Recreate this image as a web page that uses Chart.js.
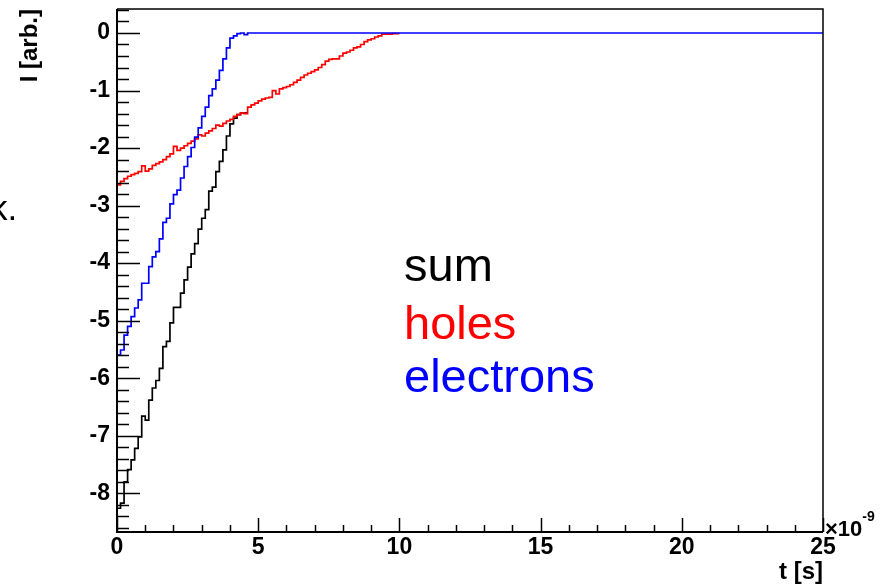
<!DOCTYPE html>
<html><head><meta charset="utf-8">
<script src="https://cdn.jsdelivr.net/npm/chart.js@4/dist/chart.umd.min.js"></script>
<style>html,body{margin:0;padding:0;background:#fff;overflow:hidden}#wrap{position:relative;width:884px;height:586px}canvas{display:block}</style>
</head><body><div id="wrap"><canvas id="c" width="884" height="586"></canvas></div>
<script>
// ---- data (time in ns, bin width 0.125 ns; current in arb. units) ----
const binWidthNs = 0.125;
const holes = [-2.38,-2.64,-2.58,-2.53,-2.49,-2.46,-2.44,-2.41,-2.31,-2.40,
 -2.36,-2.30,-2.27,-2.24,-2.20,-2.15,-2.10,-1.97,-2.04,-2.00,
 -1.96,-1.92,-1.88,-1.84,-1.77,-1.79,-1.74,-1.70,-1.66,-1.60,
 -1.62,-1.57,-1.53,-1.50,-1.45,-1.42,-1.39,-1.40,-1.29,-1.25,
 -1.22,-1.18,-1.15,-1.13,-1.12,-1.00,-1.06,-0.97,-0.95,-0.93,
 -0.90,-0.86,-0.82,-0.77,-0.73,-0.70,-0.67,-0.64,-0.60,-0.55,
 -0.49,-0.46,-0.45,-0.45,-0.40,-0.35,-0.33,-0.30,-0.26,-0.24,
 -0.20,-0.15,-0.12,-0.10,-0.07,-0.05,-0.02,-0.02,-0.02,-0.01];
const electrons = [-5.37,-5.60,-5.51,-5.25,-5.10,-4.93,-4.78,-4.64,-4.35,-4.35,
 -4.06,-3.89,-3.80,-3.58,-3.29,-3.22,-2.97,-2.81,-2.73,-2.52,
 -2.32,-2.15,-1.99,-1.81,-1.65,-1.45,-1.29,-1.09,-0.97,-0.82,
 -0.65,-0.45,-0.26,-0.09,-0.05,-0.01,0.00,-0.03,0.00];
const sum = [-7.74,-8.26,-8.17,-7.80,-7.59,-7.42,-7.22,-7.02,-6.66,-6.73,
 -6.38,-6.17,-6.04,-5.83,-5.45,-5.36,-5.04,-4.77,-4.77,-4.52,
 -4.29,-4.07,-3.84,-3.66,-3.41,-3.22,-3.07,-2.75,-2.68,-2.41,
 -2.23,-2.03,-1.79,-1.58,-1.48,-1.42,-1.39];
const holesEnd = 10.0;
const electronsEnd = 25;
const sumEnd = 4.625;
const xTicks = [0,5,10,15,20,25];
const yTicks = [-8,-7,-6,-5,-4,-3,-2,-1,0];
const seriesNames = ['sum','holes','electrons'];
const seriesColors = ['#000000','#ff0000','#0000ff'];
const xTitle = 't [s]';
const yTitle = 'I [arb.]';

function toPoints(vals, end){
  const pts = vals.map((v,i)=>({x:i*binWidthNs, y:v}));
  pts.push({x:end, y:vals[vals.length-1]});
  return pts;
}

const FONT = '"Liberation Sans", Arial, Helvetica, sans-serif';

const rootStyle = {
  id:'rootStyle',
  afterDraw(chart){
    const ctx = chart.ctx, a = chart.chartArea;
    const xs = chart.scales.x, ys = chart.scales.y;
    ctx.save();
    ctx.strokeStyle = '#000';
    // frame
    ctx.lineWidth = 2;
    ctx.beginPath();
    ctx.moveTo(a.left, a.top); ctx.lineTo(a.left, a.bottom); ctx.lineTo(a.right, a.bottom);
    ctx.stroke();
    ctx.lineWidth = 1.5;
    ctx.beginPath();
    ctx.moveTo(a.left, a.top); ctx.lineTo(a.right, a.top); ctx.lineTo(a.right, a.bottom);
    ctx.stroke();
    // y ticks
    ctx.lineWidth = 1.5;
    ctx.beginPath();
    for (let k=-43; k<=2; k++){
      const v = k*0.2;
      const py = Math.round(ys.getPixelForValue(v))+0.5;
      const len = (k%5===0) ? 23 : 12;
      ctx.moveTo(a.left, py); ctx.lineTo(a.left+len, py);
    }
    // x ticks
    for (let k=0; k<=25; k++){
      const px = Math.round(xs.getPixelForValue(k))+0.5;
      const len = (k%5===0) ? 14 : 7;
      ctx.moveTo(px, a.bottom); ctx.lineTo(px, a.bottom-len);
    }
    ctx.stroke();
    // axis titles
    ctx.fillStyle = '#000';
    ctx.font = 'bold 24px ' + FONT;
    ctx.save();
    ctx.translate(30, 9);
    ctx.rotate(-Math.PI/2);
    ctx.textAlign = 'right'; ctx.textBaseline = 'middle';
    ctx.fillText(yTitle, 0, 0);
    ctx.restore();
    ctx.textAlign = 'right'; ctx.textBaseline = 'alphabetic';
    ctx.fillText(xTitle, a.right, 579);
    // exponent
    ctx.textAlign = 'left';
    ctx.font = 'bold 22px ' + FONT;
    ctx.fillText('\u00d710', a.right+2, 536);
    const w = ctx.measureText('\u00d710').width;
    ctx.font = 'bold 14px ' + FONT;
    ctx.fillText('-9', a.right+2+w, 521);
    // series labels
    ctx.font = '47px ' + FONT;
    const base = [281, 339, 392];
    seriesNames.forEach((n,i)=>{ ctx.fillStyle = seriesColors[i]; ctx.fillText(n, 404, base[i]); });
    // clipped slide text at far left
    ctx.fillStyle = '#000';
    ctx.font = '35px ' + FONT;
    ctx.fillText('k.', -10, 220);
    ctx.restore();
  }
};

new Chart(document.getElementById('c'), {
  type:'line',
  data:{
    datasets:[
      {label:seriesNames[2], data:toPoints(electrons, electronsEnd), borderColor:seriesColors[2], order:0},
      {label:seriesNames[1], data:toPoints(holes, holesEnd), borderColor:seriesColors[1], order:1},
      {label:seriesNames[0], data:toPoints(sum, sumEnd), borderColor:seriesColors[0], order:2}
    ].map(d=>Object.assign(d,{stepped:'after', pointRadius:0, borderWidth:1.7, fill:false, tension:0}))
  },
  options:{
    responsive:false, animation:false, devicePixelRatio:1,
    layout:{padding:{left:0,right:61,top:9,bottom:0}},
    plugins:{legend:{display:false}, tooltip:{enabled:false}},
    scales:{
      x:{type:'linear', min:0, max:25,
        afterBuildTicks:s=>{s.ticks = xTicks.map(v=>({value:v}));},
        afterFit:s=>{s.height = 54; s.paddingLeft = 0; s.paddingRight = 0;},
        grid:{display:false, drawTicks:false}, border:{display:false},
        ticks:{color:'#000', font:{family:FONT, size:23, weight:'bold'}, padding:2, maxRotation:0, autoSkip:false}},
      y:{type:'linear', min:-8.673, max:0.417,
        afterBuildTicks:s=>{s.ticks = yTicks.map(v=>({value:v}));},
        afterFit:s=>{s.width = 117; s.paddingTop = 0; s.paddingBottom = 0;},
        grid:{display:false, drawTicks:false}, border:{display:false},
        ticks:{color:'#000', font:{family:FONT, size:23, weight:'bold'}, padding:7, autoSkip:false}}
    }
  },
  plugins:[rootStyle]
});
</script></body></html>
